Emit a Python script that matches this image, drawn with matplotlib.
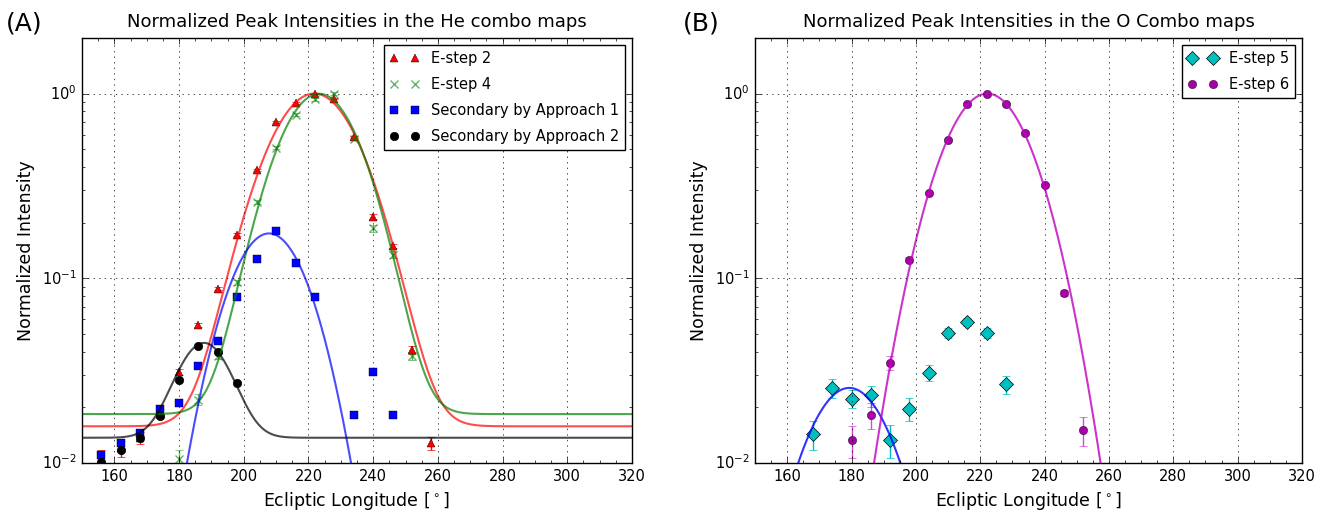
import numpy as np
import matplotlib
matplotlib.use('Agg')
import matplotlib.pyplot as plt
from matplotlib.ticker import MultipleLocator

plt.style.use('classic')
plt.rcParams['font.family'] = ['DejaVu Sans']
plt.rcParams['mathtext.fontset'] = 'dejavusans'

# He combo maps (panel A)
lon_he = [156, 162, 168, 174, 180, 186, 192, 198, 204, 210, 216, 222, 228, 234, 240, 246, 252, 258]
estep2 = [0.0102, 0.012, 0.0137, 0.0185, 0.031, 0.056, 0.088, 0.172, 0.387, 0.70, 0.89, 1.0, 0.94, 0.58, 0.216, 0.15, 0.041, 0.0128]
estep2_err = [0.0015, 0.0012, 0.001, 0.001, 0.0012, 0.0015, 0.002, 0.003, 0.005, 0.008, 0.01, 0.01, 0.01, 0.008, 0.006, 0.004, 0.002, 0.001]

lon_e4 = [180, 186, 192, 198, 204, 210, 216, 222, 228, 234, 240, 246, 252]
estep4 = [0.0105, 0.022, 0.038, 0.095, 0.26, 0.51, 0.77, 0.93, 1.0, 0.57, 0.187, 0.134, 0.038]
estep4_err = [0.0012, 0.0015, 0.0015, 0.003, 0.006, 0.01, 0.012, 0.015, 0.015, 0.012, 0.008, 0.006, 0.002]

lon_ap1 = [156, 162, 168, 174, 180, 186, 192, 198, 204, 210, 216, 222, 234, 240, 246]
approach1 = [0.011, 0.0128, 0.0146, 0.0195, 0.021, 0.0337, 0.046, 0.079, 0.127, 0.18, 0.121, 0.079, 0.0183, 0.031, 0.0183]

lon_ap2 = [156, 162, 168, 174, 180, 186, 192, 198]
approach2 = [0.0101, 0.0117, 0.0136, 0.018, 0.028, 0.043, 0.040, 0.027]

# gaussian fit parameters: amplitude, centre, sigma, offset
fit_e2 = [0.985, 221.8, 12.2, 0.0158]
fit_e4 = [0.98, 223.3, 11.0, 0.0184]
fit_ap1 = [0.175, 207.8, 10.6, 0.0]
fit_ap2 = [0.031, 187.7, 7.5, 0.0137]

# O combo maps (panel B)
lon_e5 = [168, 174, 180, 186, 192, 198, 204, 210, 216, 222, 228]
estep5 = [0.0143, 0.0255, 0.0223, 0.0232, 0.0134, 0.0196, 0.0308, 0.0507, 0.058, 0.0507, 0.0267]
estep5_err = [0.0026, 0.003, 0.0025, 0.003, 0.0027, 0.0028, 0.003, 0.003, 0.003, 0.003, 0.003]

lon_e6 = [180, 186, 192, 198, 204, 210, 216, 222, 228, 234, 240, 246, 252]
estep6 = [0.0133, 0.0182, 0.0348, 0.126, 0.29, 0.56, 0.88, 1.0, 0.88, 0.61, 0.32, 0.083, 0.015]
estep6_err = [0.0026, 0.003, 0.003, 0.004, 0.005, 0.006, 0.008, 0.008, 0.008, 0.006, 0.005, 0.003, 0.0027]

fit_e5 = [0.0255, 179.3, 11.6, 0.0]
fit_e6 = [1.0, 222.2, 11.6, 0.0]


def gauss(x, p):
    a, c, s, off = p
    return a * np.exp(-(x - c) ** 2 / (2 * s ** 2)) + off


xx = np.linspace(150, 320, 800)

fig = plt.figure(figsize=(13.3, 5.12), dpi=100, facecolor='w')
ax1 = fig.add_axes([82 / 1330, 49 / 512, 550 / 1330, 425 / 512])
ax2 = fig.add_axes([755 / 1330, 49 / 512, 547 / 1330, 425 / 512])

# --- panel A ---
ax1.errorbar(lon_he, estep2, yerr=estep2_err, fmt='none', ecolor='r', capsize=3)
ax1.errorbar(lon_e4, estep4, yerr=estep4_err, fmt='none', ecolor='g', alpha=0.6, capsize=3)
ax1.plot(lon_he, estep2, '^', color='r', mec='k', mew=0.3, ms=6, label='E-step 2')
ax1.plot(lon_e4, estep4, 'x', color='g', alpha=0.6, mew=1, ms=6, label='E-step 4')
ax1.plot(lon_ap1, approach1, 's', color='b', mec='k', mew=0.3, ms=6, label='Secondary by Approach 1')
ax1.plot(lon_ap2, approach2, 'o', color='k', ms=6, label='Secondary by Approach 2')

ax1.plot(xx, gauss(xx, fit_e2), color='r', lw=1.5, alpha=0.7)
ax1.plot(xx, gauss(xx, fit_e4), color='g', lw=1.5, alpha=0.7)
ax1.plot(xx, gauss(xx, fit_ap1), color='b', lw=1.5, alpha=0.7)
ax1.plot(xx, gauss(xx, fit_ap2), color='k', lw=1.5, alpha=0.7)

ax1.set_title('Normalized Peak Intensities in the He combo maps', fontsize=13, pad=8)
ax1.legend(loc='upper right', numpoints=2, fontsize=10.5, labelspacing=0.75,
           handlelength=2.0, borderaxespad=0.5)

# --- panel B ---
ax2.errorbar(lon_e5, estep5, yerr=estep5_err, fmt='none', ecolor='c', capsize=3)
ax2.errorbar(lon_e6, estep6, yerr=estep6_err, fmt='none', ecolor='m', alpha=0.7, capsize=3)
ax2.plot(lon_e5, estep5, 'D', color='c', mec='k', mew=0.5, ms=7.5, label='E-step 5')
ax2.plot(lon_e6, estep6, 'o', color='#aa00aa', mec='k', mew=0.3, ms=6, label='E-step 6')

ax2.plot(xx, gauss(xx, fit_e5), color='b', lw=1.5, alpha=0.8)
ax2.plot(xx, gauss(xx, fit_e6), color='m', lw=1.5, alpha=0.8)

ax2.set_title('Normalized Peak Intensities in the O Combo maps', fontsize=13, pad=8)
ax2.legend(loc='upper right', numpoints=2, fontsize=10.5, labelspacing=0.75,
           handlelength=2.0, borderaxespad=0.5)

for ax in (ax1, ax2):
    ax.set_yscale('log')
    ax.set_ylim(0.01, 2)
    ax.set_xlim(150, 320)
    ax.xaxis.set_major_locator(MultipleLocator(20))
    ax.xaxis.set_minor_locator(MultipleLocator(5))
    ax.set_xticks(range(160, 321, 20))
    ax.grid(True)
    ax.tick_params(labelsize=10.5)
    ax.set_xlabel(r'Ecliptic Longitude [$^\circ$]', fontsize=12.5)
    ax.set_ylabel('Normalized Intensity', fontsize=12.5)

fig.text(24 / 1330, 1 - 23 / 512, '(A)', fontsize=18, ha='center', va='center')
fig.text(701 / 1330, 1 - 23 / 512, '(B)', fontsize=18, ha='center', va='center')

fig.savefig('out.png', dpi=100, facecolor='w')
